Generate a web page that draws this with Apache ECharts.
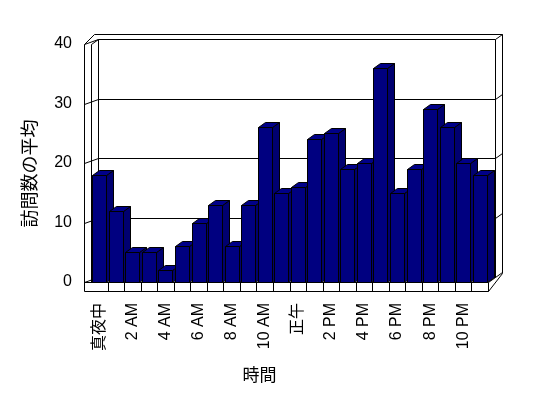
<!DOCTYPE html>
<html>
<head>
<meta charset="utf-8">
<script src="https://cdn.jsdelivr.net/npm/echarts@6/dist/echarts.min.js"></script>
<style>
  html, body { margin: 0; padding: 0; background: #fff; }
  #visitChart { width: 548px; height: 398px; }
</style>
</head>
<body>
<div id="visitChart"></div>
<script>
// 時間ごとの訪問数の平均
var hours = ['真夜中', '1 AM', '2 AM', '3 AM', '4 AM', '5 AM', '6 AM', '7 AM', '8 AM', '9 AM', '10 AM', '11 AM',
             '正午', '1 PM', '2 PM', '3 PM', '4 PM', '5 PM', '6 PM', '7 PM', '8 PM', '9 PM', '10 PM', '11 PM'];
var visits = [18, 12, 5, 5, 2, 6, 10, 13, 6, 13, 26, 15, 16, 24, 25, 19, 20, 36, 15, 19, 29, 26, 20, 18];
var yTicks = [0, 10, 20, 30, 40];

var DX = 7, DY = -5;   // 奥行き
var FONT = "'Liberation Sans', 'Noto Sans CJK JP', sans-serif";

function snap(p) {
  return [Math.round(p[0]) + 0.5, Math.round(p[1]) + 0.5];
}
function seg(points) {
  return {
    type: 'polyline',
    silent: true,
    shape: { points: points.map(snap) },
    style: { stroke: '#000', lineWidth: 1, fill: null }
  };
}

// 壁・床・目盛線
function renderFrame(params, api) {
  var band = api.size([1, 0])[0];
  var L = api.coord([0, 0])[0] - band / 2;
  var R = api.coord([hours.length - 1, 0])[0] + band / 2;
  var y = api.coord([0, api.value(1)])[1];
  var y0 = api.coord([0, yTicks[0]])[1];
  var yT = api.coord([0, yTicks[yTicks.length - 1]])[1];
  var kids = [
    seg([[L + DX, y + DY], [R + DX, y + DY]]),
    seg([[L - DX, y], [L + DX, y + DY]]),
    seg([[R + DX, y + DY], [R + 2 * DX, y + 2 * DY]])
  ];
  if (params.dataIndex === 0) {
    kids.push(seg([[L - DX, yT], [L - DX, y0 + 9]]));
    kids.push(seg([[L - DX, y0], [R, y0]]));
    kids.push(seg([[L - DX, y0 + 9], [R, y0 + 9]]));
    kids.push(seg([[R, y0], [R, y0 + 9]]));
    for (var i = 1; i < hours.length; i++) {
      var bx = L + i * band;
      kids.push(seg([[bx, y0], [bx, y0 + 9]]));
    }
    kids.push(seg([[R, y0], [R + DX, y0 + DY]]));
    kids.push(seg([[L + DX, yT + DY], [L + DX, y0 + DY]]));
    kids.push(seg([[R + DX, yT + DY], [R + DX, y0 + DY]]));
    kids.push(seg([[L, yT], [L, y0]]));
    kids.push(seg([[L, yT], [L + DX, yT + DY]]));
    kids.push(seg([[L - DX, yT], [L + 3, yT + 2 * DY], [R + 2 * DX, yT + 2 * DY],
                   [R + 2 * DX, y0 - 9], [R, y0 + 9]]));
  }
  return { type: 'group', children: kids };
}

// 立体の棒
function renderBar(params, api) {
  var top = api.coord([api.value(0), api.value(1)]);
  var base = api.coord([api.value(0), 0]);
  var w = api.size([1, 0])[0] * 0.846;
  var x0 = Math.round(top[0] - w / 2) + 0.5;
  var x1 = Math.round(top[0] + w / 2) + 0.5;
  var yt = Math.round(top[1]) + 0.5;
  var yb = Math.round(base[1]) + 0.5;
  var edge = { stroke: '#000', lineWidth: 1 };
  return {
    type: 'group',
    children: [
      { type: 'polygon', shape: { points: [[x1, yt], [x1 + DX, yt + DY], [x1 + DX, yb + DY], [x1, yb]] },
        style: Object.assign({ fill: '#000070' }, edge) },
      { type: 'polygon', shape: { points: [[x0, yt], [x0 + DX, yt + DY], [x1 + DX, yt + DY], [x1, yt]] },
        style: Object.assign({ fill: '#000088' }, edge) },
      { type: 'rect', shape: { x: x0, y: yt, width: x1 - x0, height: yb - yt },
        style: Object.assign({ fill: '#000080' }, edge) }
    ]
  };
}

var myChart = echarts.init(document.getElementById('visitChart'));
myChart.setOption({
  backgroundColor: '#fff',
  animation: false,
  grid: { left: 91, right: 60, top: 44, bottom: 116 },
  xAxis: {
    type: 'category',
    data: hours,
    name: '時間',
    nameLocation: 'middle',
    nameGap: 86,
    nameTextStyle: { color: '#000', fontSize: 17, fontFamily: FONT, padding: [0, 60, 0, 0] },
    axisLine: { show: false },
    axisTick: { show: false },
    axisLabel: { interval: 1, rotate: 90, margin: 21, color: '#000', fontSize: 16, fontFamily: FONT }
  },
  yAxis: {
    type: 'value',
    min: 0,
    max: 40,
    interval: 10,
    offset: 7,
    name: '訪問数の平均',
    nameLocation: 'middle',
    nameGap: 44,
    nameTextStyle: { color: '#000', fontSize: 18, fontFamily: FONT, padding: [0, 21, 0, 0] },
    axisLine: { show: false },
    axisTick: { show: false },
    splitLine: { show: false },
    axisLabel: { margin: 12, color: '#000', fontSize: 16, fontFamily: FONT }
  },
  series: [
    {
      name: 'frame',
      type: 'custom',
      renderItem: renderFrame,
      data: yTicks.map(function (v) { return [0, v]; }),
      encode: { x: 0, y: 1 },
      silent: true,
      z: 1
    },
    {
      name: '訪問数の平均',
      type: 'custom',
      renderItem: renderBar,
      data: visits.map(function (v, i) { return [i, v]; }),
      encode: { x: 0, y: 1 },
      z: 2
    }
  ]
});
</script>
</body>
</html>
